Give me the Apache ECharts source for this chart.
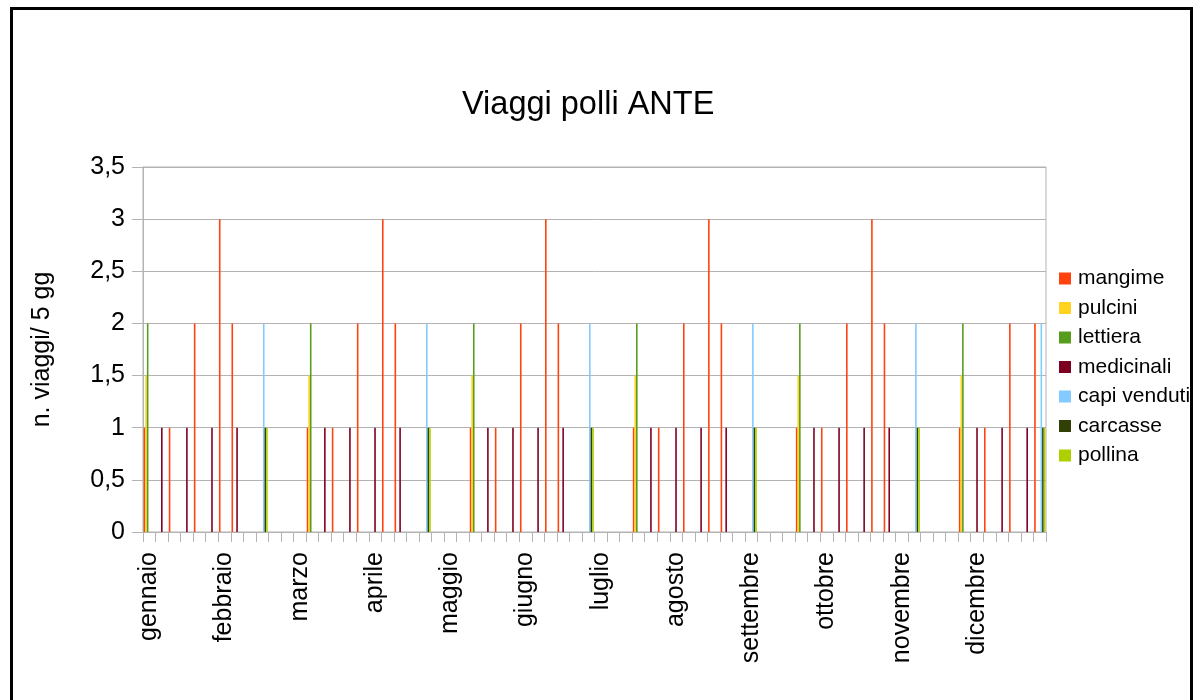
<!DOCTYPE html>
<html>
<head>
<meta charset="utf-8">
<title>Viaggi polli ANTE</title>
<script src="https://cdn.jsdelivr.net/npm/echarts@6/dist/echarts.min.js"></script>
<style>
  html, body { margin: 0; padding: 0; background: #fff; overflow: hidden; }
  #chart { width: 1200px; height: 700px; }
  .frame {
    position: absolute; left: 10px; top: 7px;
    width: 1177px; height: 760px;
    border: 3px solid #000; pointer-events: none;
  }
</style>
</head>
<body>
<div id="chart"></div>
<div class="frame"></div>
<script>
// mesi (6 periodi da 5 giorni per mese)
const months = ['gennaio', 'febbraio', 'marzo', 'aprile', 'maggio', 'giugno',
  'luglio', 'agosto', 'settembre', 'ottobre', 'novembre', 'dicembre'];
const periodsPerMonth = 6;
const categories = [];
months.forEach(m => {
  for (let k = 1; k <= periodsPerMonth; k++) categories.push(m + ' ' + k);
});

const yTicks = [0, 0.5, 1, 1.5, 2, 2.5, 3, 3.5];

// una riga = un mese
const mangime = [
  1, 0, 1, 0, 2, 0,
  3, 2, 0, 0, 0, 0,
  0, 1, 0, 1, 0, 2,
  0, 3, 2, 0, 0, 0,
  0, 0, 1, 0, 1, 0,
  2, 0, 3, 2, 0, 0,
  0, 0, 0, 1, 0, 1,
  0, 2, 0, 3, 2, 0,
  0, 0, 0, 0, 1, 0,
  1, 0, 2, 0, 3, 2,
  0, 0, 0, 0, 0, 1,
  0, 1, 0, 2, 0, 2
];
const pulcini = [
  1.5, 0, 0, 0, 0, 0,
  0, 0, 0, 0, 0, 0,
  0, 1.5, 0, 0, 0, 0,
  0, 0, 0, 0, 0, 0,
  0, 0, 1.5, 0, 0, 0,
  0, 0, 0, 0, 0, 0,
  0, 0, 0, 1.5, 0, 0,
  0, 0, 0, 0, 0, 0,
  0, 0, 0, 0, 1.5, 0,
  0, 0, 0, 0, 0, 0,
  0, 0, 0, 0, 0, 1.5,
  0, 0, 0, 0, 0, 0
];
const lettiera = [
  2, 0, 0, 0, 0, 0,
  0, 0, 0, 0, 0, 0,
  0, 2, 0, 0, 0, 0,
  0, 0, 0, 0, 0, 0,
  0, 0, 2, 0, 0, 0,
  0, 0, 0, 0, 0, 0,
  0, 0, 0, 2, 0, 0,
  0, 0, 0, 0, 0, 0,
  0, 0, 0, 0, 2, 0,
  0, 0, 0, 0, 0, 0,
  0, 0, 0, 0, 0, 2,
  0, 0, 0, 0, 0, 0
];
const medicinali = [
  0, 1, 0, 1, 0, 1,
  0, 1, 0, 0, 0, 0,
  0, 0, 1, 0, 1, 0,
  1, 0, 1, 0, 0, 0,
  0, 0, 0, 1, 0, 1,
  0, 1, 0, 1, 0, 0,
  0, 0, 0, 0, 1, 0,
  1, 0, 1, 0, 1, 0,
  0, 0, 0, 0, 0, 1,
  0, 1, 0, 1, 0, 1,
  0, 0, 0, 0, 0, 0,
  1, 0, 1, 0, 1, 0
];
const capiVenduti = [
  0, 0, 0, 0, 0, 0,
  0, 0, 0, 2, 0, 0,
  0, 0, 0, 0, 0, 0,
  0, 0, 0, 0, 2, 0,
  0, 0, 0, 0, 0, 0,
  0, 0, 0, 0, 0, 2,
  0, 0, 0, 0, 0, 0,
  0, 0, 0, 0, 0, 0,
  2, 0, 0, 0, 0, 0,
  0, 0, 0, 0, 0, 0,
  0, 2, 0, 0, 0, 0,
  0, 0, 0, 0, 0, 2
];
const carcasse = [
  0, 0, 0, 0, 0, 0,
  0, 0, 0, 1, 0, 0,
  0, 0, 0, 0, 0, 0,
  0, 0, 0, 0, 1, 0,
  0, 0, 0, 0, 0, 0,
  0, 0, 0, 0, 0, 1,
  0, 0, 0, 0, 0, 0,
  0, 0, 0, 0, 0, 0,
  1, 0, 0, 0, 0, 0,
  0, 0, 0, 0, 0, 0,
  0, 1, 0, 0, 0, 0,
  0, 0, 0, 0, 0, 1
];
const pollina = [
  0, 0, 0, 0, 0, 0,
  0, 0, 0, 1, 0, 0,
  0, 0, 0, 0, 0, 0,
  0, 0, 0, 0, 1, 0,
  0, 0, 0, 0, 0, 0,
  0, 0, 0, 0, 0, 1,
  0, 0, 0, 0, 0, 0,
  0, 0, 0, 0, 0, 0,
  1, 0, 0, 0, 0, 0,
  0, 0, 0, 0, 0, 0,
  0, 1, 0, 0, 0, 0,
  0, 0, 0, 0, 0, 1
];

const seriesDefs = [
  { name: 'mangime', data: mangime, color: '#ff420e' },
  { name: 'pulcini', data: pulcini, color: '#ffd320' },
  { name: 'lettiera', data: lettiera, color: '#579d1c' },
  { name: 'medicinali', data: medicinali, color: '#7e0021' },
  { name: 'capi venduti', data: capiVenduti, color: '#83caff' },
  { name: 'carcasse', data: carcasse, color: '#314004' },
  { name: 'pollina', data: pollina, color: '#aecf00' }
];

const font = "'Liberation Sans', Arial, sans-serif";
const gridGray = '#b3b3b3';

const chart = echarts.init(document.getElementById('chart'));

const option = {
  backgroundColor: '#fff',
  animation: false,
  textStyle: { fontFamily: font },
  title: {
    text: 'Viaggi polli ANTE',
    left: 462,
    top: 89,
    padding: 0,
    textStyle: { fontFamily: font, fontSize: 32.5, fontWeight: 'normal', color: '#000' }
  },
  legend: {
    orient: 'vertical',
    left: 1059,
    top: 268,
    padding: 0,
    itemWidth: 12,
    itemHeight: 12,
    itemGap: 8.5,
    icon: 'rect',
    textStyle: { fontFamily: font, fontSize: 21, color: '#000', padding: [0, 0, 0, 2] },
    data: seriesDefs.map(s => s.name)
  },
  grid: {
    left: 143,
    right: 154,
    top: 167,
    bottom: 168,
    show: true,
    borderColor: gridGray,
    borderWidth: 1
  },
  xAxis: {
    type: 'category',
    data: categories,
    axisLine: { lineStyle: { color: gridGray } },
    axisTick: { show: true, interval: 0, length: 10, lineStyle: { color: gridGray } },
    axisLabel: {
      interval: periodsPerMonth - 1,
      rotate: 90,
      margin: 20,
      fontSize: 25,
      color: '#000',
      fontFamily: font,
      formatter: v => v.split(' ')[0]
    },
    splitLine: { show: false }
  },
  yAxis: {
    type: 'value',
    min: yTicks[0],
    max: yTicks[yTicks.length - 1],
    interval: 0.5,
    name: 'n. viaggi/ 5 gg',
    nameLocation: 'middle',
    nameRotate: 90,
    nameGap: 88,
    nameTextStyle: { fontFamily: font, fontSize: 25, color: '#000' },
    axisLine: { show: true, lineStyle: { color: gridGray } },
    axisTick: { show: true, length: 11, lineStyle: { color: gridGray } },
    axisLabel: {
      fontSize: 25,
      color: '#000',
      fontFamily: font,
      margin: 18,
      formatter: v => String(v).replace('.', ',')
    },
    splitLine: { lineStyle: { color: gridGray } }
  },
  series: seriesDefs.map(s => ({
    name: s.name,
    type: 'bar',
    data: s.data,
    barGap: '0%',
    barCategoryGap: '11%',
    itemStyle: { color: s.color },
    emphasis: { disabled: true }
  }))
};

chart.setOption(option);
</script>
</body>
</html>
